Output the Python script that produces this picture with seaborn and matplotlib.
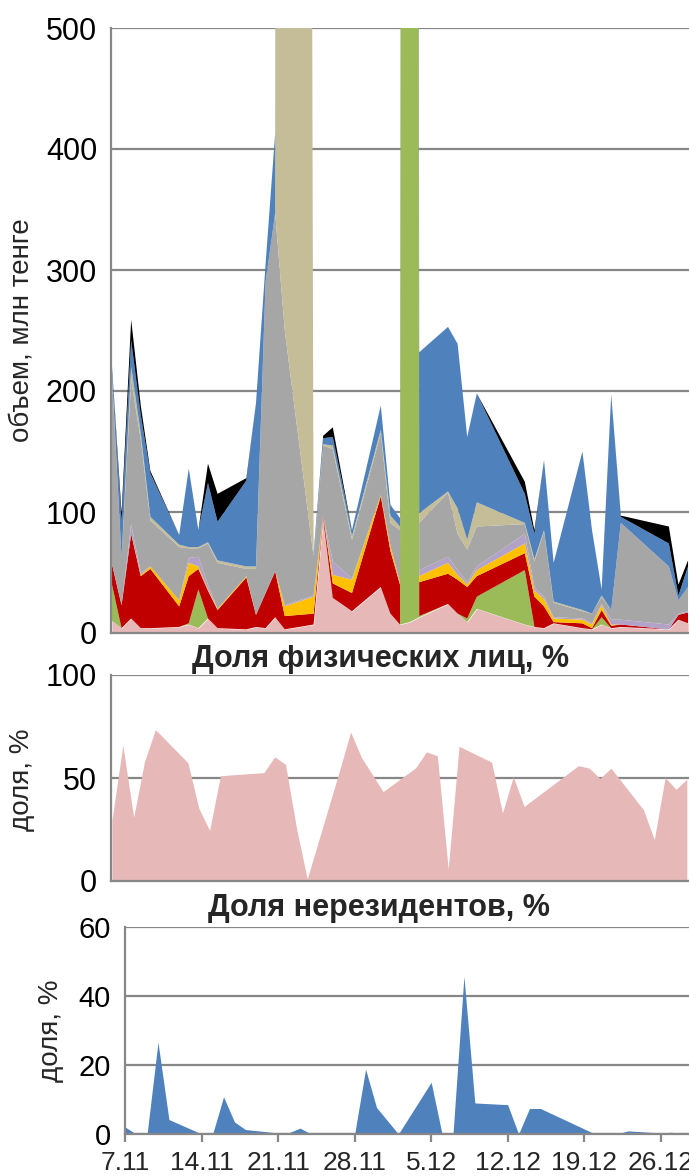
import numpy as np
import pandas as pd
import matplotlib
matplotlib.use("Agg")
import matplotlib.pyplot as plt
import matplotlib.dates as mdates
from matplotlib.ticker import FuncFormatter
import seaborn as sns

# -------------------------
# Data
# -------------------------
DATES = ["7.11", "8.11", "9.11", "10.11", "11.11", "14.11", "15.11", "16.11",
         "17.11", "18.11", "21.11", "22.11", "23.11", "24.11", "25.11", "28.11",
         "29.11", "30.11", "2.12", "5.12", "6.12", "7.12", "8.12", "9.12",
         "12.12", "13.12", "14.12", "15.12", "20.12", "21.12", "22.12", "23.12",
         "26.12", "27.12", "28.12", "29.12", "30.12", "4.01", "5.01", "6.01"]

# volume by group, mln tenge (stacked bottom -> top)
vol_pink = [10, 4, 12, 4, 4, 5, 7, 4, 12, 4, 3, 5, 4, 13, 3, 7, 95, 29, 18, 38,
            16, 7, 9, 13, 24, 16, 9, 20, 7, 5, 4, 8, 4, 3, 7, 4, 5, 3, 11, 8]
vol_green = [30, 0, 0, 0, 0, 0, 1, 32, 0, 0, 0, 0, 0, 0, 0, 0, 0, 0, 0, 0,
             0, 0, 8000, 1, 0, 0, 3, 10, 45, 0, 0, 0, 0, 0, 6, 0, 0, 0, 0, 0]
vol_red = [17, 19, 70, 43, 49, 17, 39, 17, 23, 15, 43, 10, 29, 38, 11, 9, 2, 12, 15, 75,
           52, 33, 30, 28, 25, 28, 26, 17, 14, 25, 18, 1, 4, 1, 6, 2, 2, 0, 4, 9]
vol_yellow = [0, 0, 0, 1, 2, 5, 11, 2, 1, 1, 1, 0, 0, 0, 8, 14, 0, 7, 11, 1,
              4, 2, 3, 5, 9, 4, 2, 5, 8, 5, 6, 3, 3, 3, 4, 1, 0, 0, 0, 0]
vol_lavender = [0, 0, 8, 2, 0, 0, 4, 8, 4, 0, 0, 0, 0, 0, 1, 1, 0, 11, 1, 0,
                0, 0, 3, 5, 5, 4, 2, 3, 8, 3, 2, 1, 1, 1, 1, 4, 4, 4, 1, 1]
vol_gray = [155, 39, 119, 110, 38, 44, 8, 7, 34, 38, 6, 38, 257, 296, 227, 32, 58, 93, 32, 51,
            19, 43, 40, 39, 53, 30, 27, 33, 8, 21, 54, 12, 6, 8, 6, 8, 80, 48, 11, 20]
vol_tan = [2, 0, 11, 5, 3, 2, 1, 1, 1, 2, 2, 2, 0, 0, 9000, 0, 1, 3, 3, 3,
           6, 3, 5, 8, 1, 21, 8, 20, 1, 2, 1, 1, 1, 0, 1, 0, 0, 0, 0, 0]
vol_blue = [7, 30, 22, 15, 36, 8, 65, 14, 49, 32, 71, 135, 15, 66, 10, 3, 5, 7, 5, 20,
            9, 7, 90, 133, 136, 136, 85, 90, 24, 21, 58, 32, 131, 69, 5, 178, 5, 19, 4, 17]
vol_black = [0, 7, 17, 8, 2, 0, 0, 0, 16, 23, 2, 0, 0, 0, 0, 0, 2, 8, 0, 0,
             0, 0, 0, 0, 0, 0, 0, 0, 10, 3, 0, 0, 0, 0, 0, 0, 1, 14, 9, 5]

# share of individuals, % (7.11 - 30.12)
share_individuals = [29.7, 66, 31, 58, 73.5, 57.4, 35.4, 24.6, 51.1, 51.5, 52.6, 60.3,
                     56.6, 26, 1, 54, 72.3, 60, 43.4, 55, 62.7, 60.8, 5.9, 65.4,
                     57.7, 33, 50.6, 36.2, 56, 54.8, 49.8, 54.8, 34.6, 20.1, 50.3,
                     44.5, 49.4]

# share of non-residents, % (7.11 - 30.12)
share_nonresidents = [2.0, 0, 0, 26.6, 4.2, 0, 0, 10.8, 3.5, 1.3, 0.3, 0.4, 1.7, 0, 0,
                      0, 18.8, 7.7, 0, 15.0, 0, 0, 45.7, 9.0, 8.5, 0, 7.4, 7.4, 0, 0,
                      0, 0.9, 0.3, 0.5, 0, 0, 0]

VOL_COLORS = ["#E6B9B8", "#9BBB59", "#C00000", "#FFC000", "#B3A2C7",
              "#A6A6A6", "#C4BD97", "#4F81BD", "#000000"]
PINK = "#E6B9B8"
BLUE = "#4F81BD"
GRID = "#878787"

W, H = 689, 1176


def to_dates(labels):
    out = []
    for s in labels:
        d, m = s.split(".")
        year = 2016 if int(m) >= 11 else 2017
        out.append(pd.Timestamp(year=year, month=int(m), day=int(d)))
    return pd.DatetimeIndex(out)


def rect(left, top, right, bottom):
    # pixel box -> figure fraction
    return [left / W, 1 - bottom / H, (right - left) / W, (bottom - top) / H]


def style_axes(ax, ymax, ystep, labelsize=22):
    ax.set_ylim(0, ymax)
    ax.set_yticks(np.arange(0, ymax + 1, ystep))
    ax.yaxis.grid(True, color=GRID, linewidth=1.6)
    ax.xaxis.grid(False)
    ax.set_axisbelow(True)
    sns.despine(ax=ax, top=True, right=True)
    for side in ["left", "bottom"]:
        ax.spines[side].set_color(GRID)
        ax.spines[side].set_linewidth(1.6)
    ax.tick_params(axis="y", direction="out", length=6, width=1.6,
                   color=GRID, labelsize=labelsize, pad=4, labelcolor="black")


# -------------------------
# MAIN
# -------------------------
def main():

    sns.set_theme(style="white")
    plt.rcParams["font.family"] = ["Liberation Sans", "DejaVu Sans"]

    dates = to_dates(DATES)
    share_dates = dates[:len(share_individuals)]
    start = dates[0]
    day = pd.Timedelta(days=1)

    fig = plt.figure(figsize=(W / 100, H / 100), dpi=100)

    # volume panel
    ax1 = fig.add_axes(rect(111, 28, 689, 633))
    ax1.stackplot(dates, vol_pink, vol_green, vol_red, vol_yellow, vol_lavender,
                  vol_gray, vol_tan, vol_blue, vol_black,
                  colors=VOL_COLORS, linewidth=0)
    style_axes(ax1, 500, 100)
    ax1.set_xlim(start - 0.1 * day, start + 60.1 * day)
    ax1.tick_params(axis="x", length=0, labelbottom=False)

    # share of individuals
    ax2 = fig.add_axes(rect(111, 675, 689, 881))
    ax2.fill_between(share_dates, 0, share_individuals, color=PINK, linewidth=0)
    style_axes(ax2, 100, 50)
    ax2.set_xlim(start - 0.09 * day, start + 53.2 * day)
    ax2.tick_params(axis="x", length=0, labelbottom=False)

    # share of non-residents
    ax3 = fig.add_axes(rect(125, 927, 689, 1134))
    ax3.fill_between(share_dates, 0, share_nonresidents, color=BLUE, linewidth=0)
    style_axes(ax3, 60, 20, labelsize=21)
    ax3.set_xlim(start - 0.02 * day, start + 51.6 * day)
    ax3.xaxis.set_major_locator(mdates.WeekdayLocator(byweekday=mdates.MO))
    ax3.xaxis.set_major_formatter(FuncFormatter(
        lambda v, p: "{}.{}".format(mdates.num2date(v).day, mdates.num2date(v).month)))
    ax3.tick_params(axis="x", direction="out", length=6, width=1.6, color=GRID,
                    labelsize=19, pad=6.5, bottom=True)

    # titles and axis labels
    fig.text(381 / W, 1 - 659 / H, "Доля физических лиц, %", ha="center", va="center",
             fontsize=22, fontweight="bold")
    fig.text(379 / W, 1 - 908 / H, "Доля нерезидентов, %", ha="center", va="center",
             fontsize=22, fontweight="bold")
    fig.text(22 / W, 1 - 330 / H, "объем, млн тенге", rotation=90,
             ha="center", va="center", fontsize=20)
    fig.text(22 / W, 1 - 780 / H, "доля, %", rotation=90,
             ha="center", va="center", fontsize=20)
    fig.text(51 / W, 1 - 1031 / H, "доля, %", rotation=90,
             ha="center", va="center", fontsize=20)

    fig.savefig("out.png", dpi=100)


if __name__ == "__main__":
    main()
